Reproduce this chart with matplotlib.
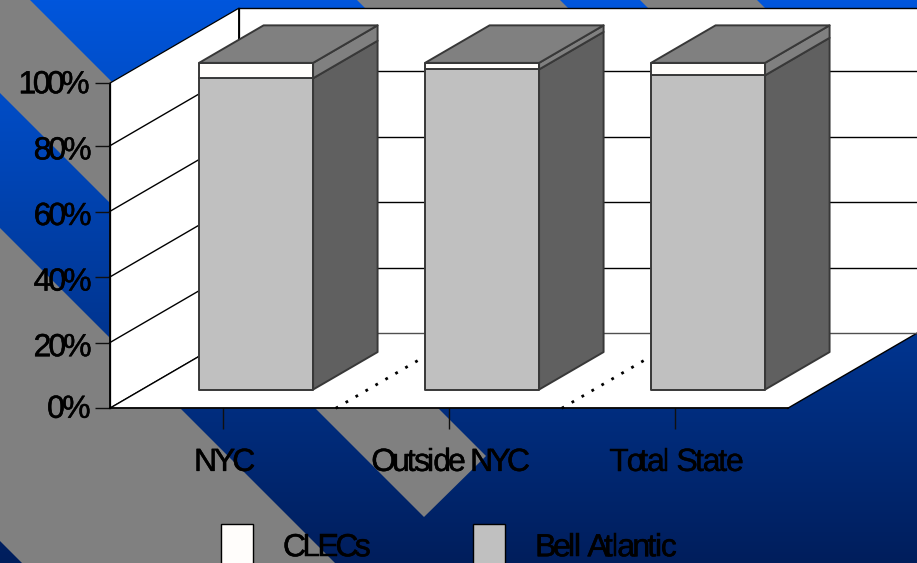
import types
import numpy as np
import matplotlib
matplotlib.use("Agg")
import matplotlib.pyplot as plt
import matplotlib.patheffects as pe
from matplotlib.patches import Polygon, Patch
from matplotlib.text import Text
from matplotlib.transforms import IdentityTransform

# Share of access lines by carrier, in percent
categories = ["NYC", "Outside NYC", "Total State"]
bell_atlantic = [94.9, 97.6, 95.8]
clecs = [4.7, 2.0, 3.8]
y_ticks = [0, 20, 40, 60, 80, 100]
y_tick_labels = ["0%", "20%", "40%", "60%", "80%", "100%"]
legend_labels = ["CLECs", "Bell Atlantic"]

W, H = 917, 563
plt.rcParams["font.family"] = ["Liberation Sans", "DejaVu Sans"]

fig = plt.figure(figsize=(W / 100, H / 100), dpi=100)


def squeezed_draw(self, renderer, squeeze=0.85, shift=0.0, lift=0.0):
    """Draw a text with its glyph advances tightened, keeping its alignment."""
    if not self.get_visible() or not self.get_text():
        return
    s = self.get_text()
    box = Text.get_window_extent(self, renderer)
    fp = self.get_fontproperties()
    advance = lambda part: renderer.get_text_width_height_descent(part, fp, False)[0]
    _, _, descent = renderer.get_text_width_height_descent("lp", fp, False)
    total = advance(s[:-1]) * squeeze + advance(s[-1])
    ha = self.get_horizontalalignment()
    if ha == "right":
        start = box.x1 - total
    elif ha == "center":
        start = (box.x0 + box.x1) / 2 - total / 2
    else:
        start = box.x0
    baseline = box.y0 + descent + lift
    for i, ch in enumerate(s):
        if ch == " ":
            continue
        x = start + shift + (advance(s[:i]) * squeeze if i else 0)
        glyph = Text(x, baseline, ch, fontproperties=fp, color=self.get_color(),
                     ha="left", va="baseline", transform=IdentityTransform(),
                     path_effects=[pe.withStroke(linewidth=0.35, foreground=self.get_color())])
        glyph.set_figure(self.get_figure())
        Text.draw(glyph, renderer)


def squeeze_text(text, **kwargs):
    text.draw = types.MethodType(lambda self, r: squeezed_draw(self, r, **kwargs), text)


# Slide backdrop: vertical blue gradient with grey diagonal bands, in pixel units
bg = fig.add_axes([0, 0, 1, 1], zorder=0)
bg.axis("off")
top_rgb = np.array([0, 86, 220]) / 255
bottom_rgb = np.array([0, 30, 92]) / 255
t = np.linspace(0, 1, H)[:, None, None]
bg.imshow(top_rgb * (1 - t) + bottom_rgb * t, extent=(0, W, H, 0), aspect="auto", zorder=0)
GREY = "#808080"
bands = [
    [(30, 0), (486, 456), (424, 517), (0, 93), (0, 0)],
    [(0, 228), (335, 563), (22, 563), (0, 541)],
    [(357, 0), (560, 0), (568, 8), (365, 8)],
    [(640, 0), (757, 0), (765, 8), (648, 8)],
]
for band in bands:
    bg.add_patch(Polygon(band, closed=True, fc=GREY, ec="none", zorder=1))
bg.set_xlim(0, W)
bg.set_ylim(H, 0)

# Chart scales: one x unit is a category slot, y is in percent
ORIGIN_X, ORIGIN_Y = 109.7, 408.3
SLOT_PX = 226.0
PCT_PX = 3.28
DEPTH_DX = 129.0 / SLOT_PX
DEPTH_DY = 75.0 / PCT_PX
WALL_TOP = 99.1

ax = fig.add_axes([0, 0, 1, 1], zorder=1)
ax.patch.set_alpha(0)
ax.set_xlim(-ORIGIN_X / SLOT_PX, (W - ORIGIN_X) / SLOT_PX)
ax.set_ylim((ORIGIN_Y - H) / PCT_PX, ORIGIN_Y / PCT_PX)


def project(x, y, depth=0.0):
    """Oblique projection of a point on to the front plane of the chart."""
    return (x + depth * DEPTH_DX, y + depth * DEPTH_DY)


n = len(categories)
WALL = dict(fc="white", ec="black", lw=0.9, joinstyle="round")
ax.add_patch(Polygon([project(0, 0), project(0, WALL_TOP), project(0, WALL_TOP, 1), project(0, 0, 1)],
                     zorder=1, **WALL))
ax.add_patch(Polygon([project(0, 0, 1), project(0, WALL_TOP, 1), project(n, WALL_TOP, 1), project(n, 0, 1)],
                     zorder=1, fc="white", ec="none"))
ax.plot(*zip(project(0, WALL_TOP, 1), project(n, WALL_TOP, 1)), color="black", lw=1.0, zorder=2)
ax.plot(*zip(project(0, 0, 1), project(0, WALL_TOP, 1)), color="black", lw=0.9, zorder=2)
ax.add_patch(Polygon([project(0, 0), project(n, 0), project(n, 0, 1), project(0, 0, 1)], zorder=1,
                     fc="white", ec="none"))
ax.plot(*zip(project(n, 0), project(n, 0, 1)), color="black", lw=1.0, zorder=2)

# Gridlines run along the side wall and across the back wall
for v in y_ticks[:-1]:
    ax.plot(*zip(project(0, v), project(0, v, 1)), color="black", lw=1.0, zorder=2)
    ax.plot(*zip(project(0, v, 1), project(n, v, 1)), color="#505050" if v == 0 else "black", lw=1.0, zorder=2)

# Dotted category dividers on the floor
for i in range(1, n):
    ax.plot(*zip(project(i, 0), project(i, 0, 0.64)), color="black", lw=2.0, zorder=2,
            linestyle=(0, (1, 3.14)))

# Stacked 3-D columns
FRONT_D, BACK_D = 0.25, 0.75
BAR_W = 114.0 / SLOT_PX
BAR_NUDGE = 0.005
C_BELL, C_CLEC = "#c0c0c0", "#fffdfb"
C_BELL_SIDE, C_CLEC_SIDE, C_TOP = "#606060", "#808080", "#808080"
EDGE = dict(ec="#383838", lw=1.4, joinstyle="round", zorder=3)
for i in range(n):
    x0 = i + 0.5 + BAR_NUDGE - BAR_W / 2
    x1 = i + 0.5 + BAR_NUDGE + BAR_W / 2
    b = bell_atlantic[i]
    top = b + clecs[i]
    for lo, hi, front, side in ((0, b, C_BELL, C_BELL_SIDE), (b, top, C_CLEC, C_CLEC_SIDE)):
        ax.add_patch(Polygon([project(x0, lo, FRONT_D), project(x0, hi, FRONT_D),
                              project(x1, hi, FRONT_D), project(x1, lo, FRONT_D)], fc=front, **EDGE))
        ax.add_patch(Polygon([project(x1, lo, FRONT_D), project(x1, hi, FRONT_D),
                              project(x1, hi, BACK_D), project(x1, lo, BACK_D)], fc=side, **EDGE))
    ax.add_patch(Polygon([project(x0, top, FRONT_D), project(x0, top, BACK_D),
                          project(x1, top, BACK_D), project(x1, top, FRONT_D)], fc=C_TOP, **EDGE))

# Axes drawn on the front plane
for name in ("top", "right"):
    ax.spines[name].set_visible(False)
ax.spines["left"].set_position(("data", 0))
ax.spines["bottom"].set_position(("data", 0))
ax.spines["left"].set_bounds(0, WALL_TOP)
ax.spines["bottom"].set_bounds(0, n)
ax.spines["left"].set_zorder(4)
ax.spines["bottom"].set_linewidth(1.3)
ax.spines["left"].set_linewidth(0.9)
ax.set_yticks([min(v, WALL_TOP) for v in y_ticks], y_tick_labels)
ax.set_xticks([i + 0.5 for i in range(n)], categories)
ax.tick_params(axis="y", length=11, width=1.0, pad=2, labelsize=23, color="#101010")
ax.tick_params(axis="x", length=15, width=1.0, pad=13.5, labelsize=23, color="#101010")

y_label_lift = {"0%": 2.0, "100%": 1.5}
y_label_squeeze = {"100%": 0.80, "0%": 0.85}
y_label_shift = {"100%": -2.0, "0%": -1.0}
for label in ax.get_yticklabels():
    s = label.get_text()
    squeeze_text(label, squeeze=y_label_squeeze.get(s, 0.83), shift=y_label_shift.get(s, 0.0),
                 lift=y_label_lift.get(s, -2.0))
x_label_squeeze = {"NYC": 0.86, "Outside NYC": 0.83, "Total State": 0.87}
for label in ax.get_xticklabels():
    squeeze_text(label, squeeze=x_label_squeeze[label.get_text()], shift=2.0)

legend = ax.legend(
    handles=[Patch(fc=C_CLEC, ec="black", lw=1.0, label=legend_labels[0]),
             Patch(fc=C_BELL, ec="black", lw=1.0, label=legend_labels[1])],
    loc="upper left",
    bbox_to_anchor=(221, 524),
    bbox_transform=bg.transData,
    ncols=2,
    frameon=False,
    fontsize=23,
    borderpad=0,
    borderaxespad=0,
    handlelength=1.0,
    handleheight=1.73,
    handletextpad=0.94,
    columnspacing=2.78,
)
for label in legend.get_texts():
    squeeze_text(label, squeeze=0.84)

fig.savefig("out.png", dpi=100)
